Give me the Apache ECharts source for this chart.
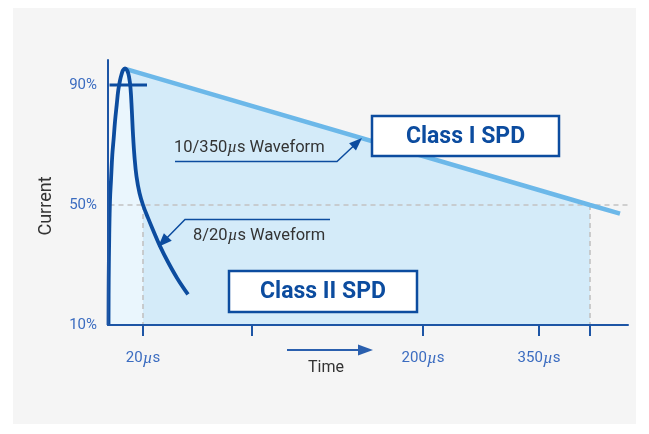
<!DOCTYPE html>
<html>
<head>
<meta charset="utf-8">
<script src="https://cdn.jsdelivr.net/npm/echarts@6/dist/echarts.min.js"></script>
<style>
  html, body { margin: 0; padding: 0; background: #ffffff; }
  #chart { width: 649px; height: 434px; }
</style>
</head>
<body>
<div id="chart"></div>
<script>
// Schematic time axis: tick positions (layout units) and their labels
const timeTicks = [7, 28.8, 63, 86.2, 96.4];
const timeLabels = ['20µs', '', '200µs', '350µs', ''];

// Current axis ticks (%)
const currentTicks = [10, 50, 90];
const halfLevel = 50;
const markLevel = 90;

// 8/20µs waveform: [time unit, current %]
const wave820 = [
  [0.1, 10], [0.14, 25], [0.25, 40], [0.4, 51.7], [0.6, 58.3], [0.86, 66.7],
  [1.14, 72.3], [1.4, 77.8], [1.75, 83.5], [2.06, 88.3], [2.4, 91.5],
  [2.7, 93.5], [3.0, 94.9], [3.4, 95.5], [3.85, 94.8], [4.2, 92.8],
  [4.5, 89], [4.75, 82], [5.0, 73.5], [5.3, 66], [5.7, 59.5], [6.3, 54],
  [7.0, 50], [8.0, 45.7], [9.0, 41.7], [10.4, 36.3], [12.0, 31],
  [13.8, 25.7], [16.0, 20.2]
];

// 10/350µs waveform envelope: [time unit, current %]
const wave10350 = [[3.8, 95.2], [96.4, 50], [102.4, 47.1]];

// Span of the 90% marker bar
const markSpan = [0.3, 7.8];

const DARK = '#0c4c9f';
const AXIS = '#1d55a5';
const LABEL_BLUE = '#3b6cc0';
const LIGHT_LINE = '#6cb8e9';
const FILL_MID = '#d4ebf9';
const FILL_LIGHT = '#eaf6fd';
const DASH = '#c2c2c2';
const TEXT = '#333333';
const FONT = 'Roboto, "Noto Sans", sans-serif';

const t20 = timeTicks[0];
const tEnd = timeTicks[timeTicks.length - 1];
const muStyle = { fontFamily: '"Liberation Serif", serif', fontStyle: 'italic', fontSize: 17 };

function withMu(label) {
  return label.replace('µ', '{mu|µ}');
}

// Polyline with a filled arrowhead at its last point
function arrowShapes(pts, color, lw, headLen, headW) {
  const n = pts.length;
  const [tx, ty] = pts[n - 1];
  const [px, py] = pts[n - 2];
  const L = Math.hypot(tx - px, ty - py);
  const ux = (tx - px) / L, uy = (ty - py) / L;
  const bx = tx - ux * headLen, by = ty - uy * headLen;
  const line = pts.slice(0, n - 1).concat([[bx + ux, by + uy]]);
  return [
    { type: 'polyline', z: 50, shape: { points: line }, style: { stroke: color, lineWidth: lw, fill: null } },
    { type: 'polygon', z: 50, shape: { points: [[tx, ty], [bx - uy * headW, by + ux * headW], [bx + uy * headW, by - ux * headW]] }, style: { fill: color } }
  ];
}

function labelBox(x, y, w, h, text) {
  return [
    { type: 'rect', z: 60, shape: { x: x, y: y, width: w, height: h }, style: { fill: '#ffffff', stroke: DARK, lineWidth: 2.5 } },
    { type: 'text', z: 61, style: { text: text, x: x + w / 2, y: y + h / 2 + 1, align: 'center', verticalAlign: 'middle', fill: DARK, fontFamily: FONT, fontWeight: 'bold', fontSize: 23 } }
  ];
}

const chart = echarts.init(document.getElementById('chart'), null, { renderer: 'canvas' });

const graphics = [
  { type: 'rect', z: -100, shape: { x: 13, y: 8, width: 623, height: 416 }, style: { fill: '#f5f5f5' } },
  { type: 'text', z: 50, rotation: Math.PI / 2, x: 46, y: 206,
    style: { text: 'Current', align: 'center', verticalAlign: 'middle', fill: TEXT, fontFamily: FONT, fontSize: 18 } },
  { type: 'text', z: 50, style: { text: 'Time', x: 326, y: 368, align: 'center', verticalAlign: 'middle', fill: TEXT, fontFamily: FONT, fontSize: 16 } },
  { type: 'text', z: 50, style: { text: '10/350{mu|µ}s Waveform', x: 174, y: 148, align: 'left', verticalAlign: 'middle', fill: TEXT, fontFamily: FONT, fontSize: 16.5, rich: { mu: Object.assign({ fill: TEXT }, muStyle) } } },
  { type: 'text', z: 50, style: { text: '8/20{mu|µ}s Waveform', x: 193, y: 236, align: 'left', verticalAlign: 'middle', fill: TEXT, fontFamily: FONT, fontSize: 16.5, rich: { mu: Object.assign({ fill: TEXT }, muStyle) } } }
]
  .concat(arrowShapes([[175, 161.5], [337, 161.5], [362, 138]], DARK, 1.5, 13, 5))
  .concat(arrowShapes([[330, 219.5], [185, 219.5], [158, 247]], DARK, 1.5, 14, 5.5))
  .concat(arrowShapes([[287, 350], [373, 350]], '#2a5fae', 2, 15, 5.5))
  .concat(labelBox(372, 116, 187, 40, 'Class I SPD'))
  .concat(labelBox(229, 271, 188, 41, 'Class II SPD'));

const option = {
  animation: false,
  backgroundColor: '#ffffff',
  grid: { left: 108, right: 21, top: 60, bottom: 109, containLabel: false },
  xAxis: {
    type: 'value', min: 0, max: 104, z: 10,
    axisLine: { show: true, lineStyle: { color: AXIS, width: 2 } },
    axisTick: { show: true, customValues: timeTicks, length: 11, inside: false, lineStyle: { color: AXIS, width: 2 } },
    axisLabel: {
      customValues: timeTicks.filter((v, i) => timeLabels[i] !== ''),
      margin: 25, color: LABEL_BLUE, fontFamily: FONT, fontSize: 15,
      formatter: (v) => {
        const i = timeTicks.indexOf(v);
        return i >= 0 ? withMu(timeLabels[i]) : '';
      },
      rich: { mu: Object.assign({ color: LABEL_BLUE }, muStyle) }
    },
    splitLine: { show: false }
  },
  yAxis: {
    type: 'value', min: 10, max: 10 + 265 / 3, z: 10,
    axisLine: { show: true, lineStyle: { color: AXIS, width: 2 } },
    axisTick: { show: false },
    axisLabel: {
      customValues: currentTicks, margin: 11, color: LABEL_BLUE, fontFamily: FONT, fontSize: 15,
      formatter: (v) => v + '%'
    },
    splitLine: { show: false }
  },
  series: [
    { // area under the 10/350µs envelope
      type: 'line', data: wave10350.slice(0, 2), symbol: 'none', silent: true, z: 1,
      lineStyle: { width: 0 }, areaStyle: { color: FILL_MID, opacity: 1, origin: 'start' }
    },
    { // area under the 8/20µs pulse up to 20µs
      type: 'line', data: wave820.filter(p => p[0] <= t20), symbol: 'none', silent: true, z: 2,
      smooth: 0.4,
      lineStyle: { width: 0 }, areaStyle: { color: FILL_LIGHT, opacity: 1, origin: 'start' }
    },
    { type: 'line', data: [[0.3, halfLevel], [104.8, halfLevel]], symbol: 'none', silent: true, z: 3, clip: false,
      lineStyle: { color: DASH, width: 1.6, type: [5, 4] } },
    { type: 'line', data: [[t20, halfLevel], [t20, 10]], symbol: 'none', silent: true, z: 3,
      lineStyle: { color: DASH, width: 1.6, type: [5, 4] } },
    { type: 'line', data: [[tEnd, halfLevel], [tEnd, 10]], symbol: 'none', silent: true, z: 3,
      lineStyle: { color: DASH, width: 1.6, type: [5, 4] } },
    { // 10/350µs waveform
      type: 'line', data: wave10350, symbol: 'none', silent: true, z: 4,
      lineStyle: { color: LIGHT_LINE, width: 4.5, cap: 'butt' }
    },
    { // 8/20µs waveform
      type: 'line', data: wave820, symbol: 'none', silent: true, z: 5,
      smooth: 0.4,
      lineStyle: { color: DARK, width: 3.8, cap: 'butt' }
    },
    { // 90% marker
      type: 'line', data: [[markSpan[0], markLevel], [markSpan[1], markLevel]], symbol: 'none', silent: true, z: 6,
      lineStyle: { color: DARK, width: 3.2 }
    }
  ],
  graphic: { elements: graphics }
};

chart.setOption(option);
</script>
</body>
</html>
